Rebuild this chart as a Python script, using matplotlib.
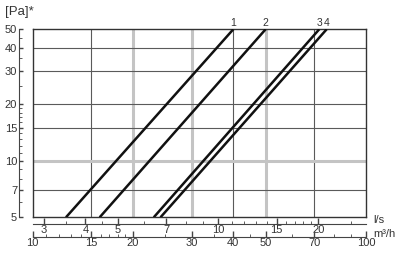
import matplotlib.pyplot as plt
from matplotlib.ticker import FixedLocator, NullFormatter

# pressure drop [Pa] at the two ends of each line
pa_ends = [5, 50]
# flow [m3/h] at 5 Pa and at 50 Pa for each curve
curves = {
    "1": [12.6, 40.0],
    "2": [15.9, 50.0],
    "3": [23.1, 72.4],
    "4": [24.2, 76.2],
}

y_major = [5, 7, 10, 15, 20, 30, 40, 50]
y_minor = [6, 8, 9, 11, 12, 13, 14, 16, 17, 18, 19, 25, 35, 45]
m3h_major = [10, 15, 20, 30, 40, 50, 70, 100]
m3h_minor = [11, 12, 13, 14, 16, 17, 18, 19, 25, 35, 45, 60, 80, 90]
ls_major = [3, 4, 5, 7, 10, 15, 20]
ls_minor = [3.5, 4.5, 6, 8, 9, 11, 12, 13, 14, 16, 17, 18, 19, 25]

grid_dark_x = [15, 40, 70]
grid_light_x = [20, 30, 50]
grid_dark_y = [7, 15, 20, 30, 40]
grid_light_y = [10]

W, H = 400, 254
txt = "#333333"
plt.rcParams["font.family"] = ["Liberation Sans", "DejaVu Sans"]
plt.rcParams["font.size"] = 8

fig = plt.figure(figsize=(W / 100, H / 100), dpi=100)

left, right = 32.5 / W, 366 / W
bottom, top = 1 - 217.3 / H, 1 - 29.3 / H

ax = fig.add_axes([left, bottom, right - left, top - bottom])
ax.set_xscale("log")
ax.set_yscale("log")
ax.set_xlim(10, 100)
ax.set_ylim(5, 50)
ax.set_xticks([])
ax.set_yticks([])
ax.minorticks_off()
for s in ax.spines.values():
    s.set_color("#333333")
    s.set_linewidth(1.0)

for v in grid_light_x:
    ax.axvline(v, color="#c4c4c4", lw=2.2, zorder=1)
for v in grid_dark_x:
    ax.axvline(v, color="#5a5a5a", lw=0.8, zorder=1)
for v in grid_light_y:
    ax.axhline(v, color="#c4c4c4", lw=2.2, zorder=1)
for v in grid_dark_y:
    ax.axhline(v, color="#5a5a5a", lw=0.8, zorder=1)

for name, q in curves.items():
    ax.plot(q, pa_ends, color="#111111", lw=1.8, zorder=3, solid_capstyle="butt")
    ax.text(q[1], 51, name, ha="center", va="bottom", color=txt, fontsize=7.5)

# separate y axis left of the frame
yax = fig.add_axes([18.5 / W, bottom, 0.001, top - bottom])
yax.set_yscale("log")
yax.set_ylim(5, 50)
yax.set_xticks([])
for k in ["top", "right", "bottom"]:
    yax.spines[k].set_visible(False)
yax.spines["left"].set_color("#444444")
yax.spines["left"].set_linewidth(0.8)
yax.yaxis.set_major_locator(FixedLocator(y_major))
yax.yaxis.set_minor_locator(FixedLocator(y_minor))
yax.set_yticklabels([str(v) for v in y_major])
yax.yaxis.set_minor_formatter(NullFormatter())
yax.tick_params(axis="y", which="major", direction="in", length=3, width=1.0,
                pad=1, colors="#444444", labelcolor=txt)
yax.tick_params(axis="y", which="minor", direction="in", length=1.8, width=0.6,
                colors="#444444")

# l/s and m3/h axes below the frame
def flow_axis(ypix, lo, hi, major, minor):
    a = fig.add_axes([left, 1 - ypix / H, right - left, 0.001])
    a.set_xscale("log")
    a.set_xlim(lo, hi)
    a.set_yticks([])
    for k in ["top", "right", "left"]:
        a.spines[k].set_visible(False)
    a.spines["bottom"].set_color("#444444")
    a.spines["bottom"].set_linewidth(0.8)
    a.xaxis.set_major_locator(FixedLocator(major))
    a.xaxis.set_minor_locator(FixedLocator(minor))
    a.set_xticklabels([str(v) for v in major])
    a.xaxis.set_minor_formatter(NullFormatter())
    a.tick_params(axis="x", which="major", direction="in", length=4, width=1.0,
                  pad=0.5, colors="#444444", labelcolor=txt)
    a.tick_params(axis="x", which="minor", direction="in", length=2, width=0.6,
                  colors="#444444")
    return a

flow_axis(224.3, 10 / 3.6, 100 / 3.6, ls_major, ls_minor)
flow_axis(237.3, 10, 100, m3h_major, m3h_minor)

fig.text(373 / W, 1 - 220 / H, "l/s", ha="left", va="center", color=txt, fontsize=8)
fig.text(373 / W, 1 - 234 / H, "m\u00b3/h", ha="left", va="center", color=txt, fontsize=8)
fig.text(5 / W, 1 - 12 / H, "[Pa]*", ha="left", va="center", color=txt, fontsize=9.5)

fig.savefig("out.png", dpi=100)
